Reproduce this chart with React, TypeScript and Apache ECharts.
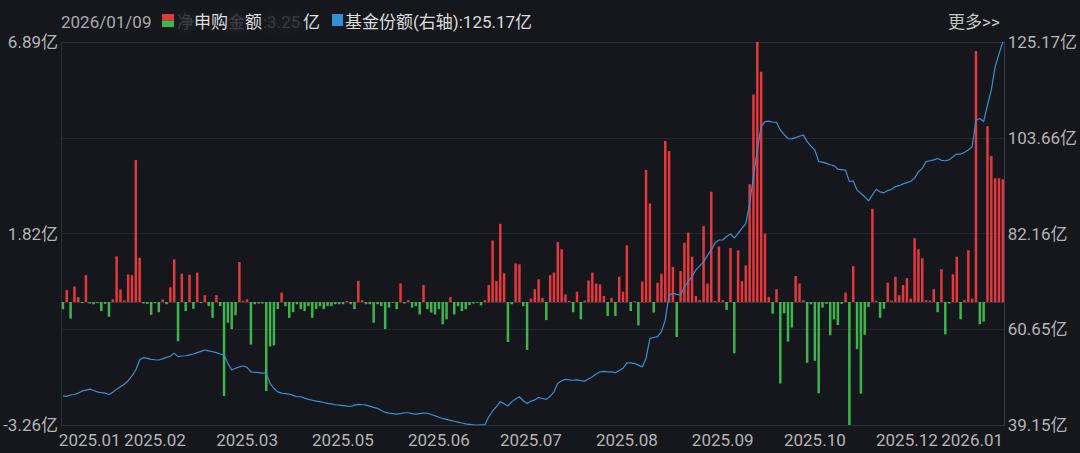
import React, { useEffect, useRef } from "react";
import * as echarts from "echarts";

// Net subscription amount per trading day (亿), 2025-01 .. 2026-01-09
const netValues: number[] = [
  -0.19, 0.32, -0.44, 0.41, 0.13, -0.03, 0.71, -0.04, -0.06, -0.03,
  -0.24, -0.05, -0.39, 0.07, 1.21, 0.33, 0.04, 0.73, 0.71, 3.76,
  1.17, -0.04, -0.05, -0.34, -0.03, -0.27, 0.07, -0.06, 0.39, 1.13,
  -1.04, 0.75, -0.24, 0.72, -0.18, 0.78, -0.03, 0.18, -0.11, -0.42,
  0.18, -0.11, -2.49, -0.55, -0.72, -0.35, 1.06, 0.03, 0.07, -1.13,
  -0.06, -0.04, -0.04, -2.36, -1.18, -1.15, -0.19, 0.25, -0.11, -0.42,
  -0.27, -0.06, -0.19, -0.24, -0.11, -0.42, -0.19, -0.11, -0.19, -0.11,
  -0.11, -0.06, -0.06, -0.06, 0.03, -0.06, -0.19, 0.56, 0.05, -0.06,
  -0.06, -0.55, -0.06, -0.11, -0.72, -0.15, -0.02, -0.19, 0.49, -0.04,
  0.05, -0.15, -0.11, -0.33, 0.45, -0.19, -0.28, -0.33, -0.19, -0.59,
  -0.46, 0.13, -0.33, -0.11, -0.24, -0.19, -0.08, -0.04, -0.02, -0.09,
  0.05, 0.45, 1.63, 0.56, 2.07, 0.76, -1.06, -0.06, 1.02, 1.0,
  -0.11, -1.27, 0.09, 0.34, 0.6, 0.11, -0.48, 0.71, 0.78, 1.59,
  1.4, 0.2, 0.03, -0.27, 0.27, -0.46, 0.04, 0.57, 0.78, 0.49,
  0.47, 0.16, -0.37, 0.11, -0.37, 0.67, 0.27, 1.5, -0.24, 0.02,
  -0.62, 0.54, 3.5, 2.61, -0.28, 0.51, 0.75, 4.27, 4.0, 0.93,
  -0.93, 0.82, 1.57, 1.84, 1.2, 0.16, 0.05, 2.01, 0.49, 2.92,
  0.03, 1.47, 0.05, -0.21, 1.43, -1.36, 1.37, 0.55, 0.97, 3.12,
  5.5, 6.89, 6.1, 1.81, 0.13, -0.31, 0.34, -2.16, -0.3, -1.05,
  -0.68, 0.69, 0.49, 0.05, -1.61, -0.06, -1.56, -2.42, -0.15, -0.05,
  -0.88, -0.46, -0.61, -0.05, 0.25, -3.26, 0.95, -1.25, -2.43, -0.87,
  -0.13, 2.47, 0.03, -0.42, -0.18, 0.51, 0.04, 0.67, 0.18, 0.45,
  0.63, 0.09, 1.69, 1.4, 1.16, 0.05, 0.04, 0.34, -0.27, 0.87,
  -0.86, -0.04, 0.73, 1.2, -0.46, 0.05, 1.37, 0.09, 6.65, -0.59,
  -0.52, 4.66, 3.87, 3.28, 3.28, 3.25,
];

// Fund shares (亿), right axis
const shareValues: number[] = [
  45.7, 45.6, 45.9, 46.0, 46.3, 46.8, 47.0, 47.2, 46.9, 46.6,
  46.4, 46.3, 46.0, 46.5, 47.2, 47.75, 48.3, 49.1, 50.2, 51.5,
  53.75, 54.3, 54.1, 53.9, 53.8, 53.75, 54.0, 54.35, 54.6, 55.3,
  54.5, 54.65, 54.7, 54.9, 55.1, 55.4, 55.7, 56.0, 55.8, 55.6,
  55.4, 55.1, 54.9, 53.0, 51.5, 51.9, 52.2, 52.4, 52.1, 51.1,
  51.0, 50.9, 50.8, 50.8, 48.5, 47.4, 46.6, 46.3, 46.2, 46.1,
  45.8, 45.5, 45.5, 45.2, 44.9, 44.7, 44.5, 44.4, 44.2, 44.0,
  43.9, 43.7, 43.6, 43.5, 43.4, 43.3, 43.6, 43.8, 43.7, 43.6,
  43.4, 43.1, 42.9, 42.4, 42.0, 41.8, 41.7, 41.6, 41.7, 41.9,
  41.9, 41.7, 41.6, 41.7, 41.8, 41.8, 41.5, 41.2, 40.9, 40.6,
  40.4, 40.2, 40.0, 39.8, 39.6, 39.4, 39.3, 39.2, 39.15, 39.2,
  39.2, 41.0, 42.3, 43.3, 44.4, 43.9, 43.4, 44.4, 45.0, 45.5,
  44.6, 44.0, 44.5, 44.8, 45.3, 45.1, 44.9, 45.6, 46.6, 48.5,
  49.1, 49.4, 49.3, 49.2, 49.3, 49.1, 49.0, 49.5, 50.0, 50.6,
  51.1, 51.2, 51.1, 51.1, 50.9, 51.4, 51.9, 53.1, 53.1, 53.0,
  52.6, 52.2, 54.1, 58.6, 58.8, 59.0, 60.1, 62.7, 68.35, 68.7,
  68.5, 68.35, 70.2, 71.4, 72.5, 74.0, 74.9, 75.8, 77.2, 78.5,
  80.0, 80.7, 80.7, 81.5, 82.05, 81.1, 82.2, 83.3, 84.4, 88.9,
  94.9, 100.9, 106.15, 107.3, 107.4, 107.2, 107.1, 105.4, 104.4, 103.5,
  103.4, 103.7, 104.0, 104.3, 102.8, 101.8, 100.9, 98.3, 98.2, 97.9,
  97.6, 97.4, 96.6, 96.5, 96.4, 93.8, 94.0, 91.9, 91.2, 90.4,
  89.5, 90.8, 92.1, 91.5, 91.3, 91.8, 92.1, 92.7, 92.9, 93.3,
  93.6, 93.9, 94.6, 96.0, 96.8, 98.3, 98.5, 98.7, 99.0, 98.6,
  98.5, 98.7, 99.4, 100.0, 100.0, 100.4, 100.9, 101.65, 107.6, 108.0,
  107.3, 111.0, 114.4, 119.6, 122.5, 125.17,
];

// x-axis tick labels and the bar index they sit under
const xTickIndex: number[] = [7, 24, 48, 73, 98, 122, 147, 172, 196, 220, 237];
const xTickLabels: string[] = [
  "2025.01", "2025.02", "2025.03", "2025.05", "2025.06", "2025.07",
  "2025.08", "2025.09", "2025.10", "2025.12", "2026.01",
];

const leftMin = -3.26;
const leftMax = 6.89;
const leftTickLabels: string[] = ["-3.26亿", "", "1.82亿", "", "6.89亿"];
const rightMin = 39.15;
const rightMax = 125.17;
const rightTickLabels: string[] = ["39.15亿", "60.65亿", "82.16亿", "103.66亿", "125.17亿"];

const categories: string[] = netValues.map((_, i) => String(i));

const RED = "#e4393c";
const GREEN = "#3cb54b";
const BLUE = "#3a8fd6";
const BG = "#15171c";
const FONT = 'Roboto, "Noto Sans CJK SC", sans-serif';

export default function App() {
  const ref = useRef<HTMLDivElement>(null);

  useEffect(() => {
    document.body.style.margin = "0";
    const chart = echarts.init(ref.current!, undefined, { renderer: "svg" });
    const leftInt = (leftMax - leftMin) / 4;
    const rightInt = (rightMax - rightMin) / 4;
    const tickMap: Record<number, string> = {};
    xTickIndex.forEach((ix, k) => (tickMap[ix] = xTickLabels[k]));

    const blurred = (text: string, x: number) => ({
      type: "text",
      left: x,
      top: 13,
      silent: true,
      style: {
        text,
        fill: "rgba(220,220,220,0.16)",
        font: `17px ${FONT}`,
        textShadowColor: "rgba(230,230,230,0.8)",
        textShadowBlur: 9,
      },
    });
    const clear = (text: string, x: number, color = "#dcdcdc") => ({
      type: "text",
      left: x,
      top: 13,
      style: { text, fill: color, font: `17px ${FONT}` },
    });

    chart.setOption({
      animation: false,
      backgroundColor: BG,
      textStyle: { fontFamily: FONT },
      grid: { left: 61, right: 75, top: 42, bottom: 28, containLabel: false },
      xAxis: {
        type: "category",
        data: categories,
        boundaryGap: true,
        axisLine: { show: true, lineStyle: { color: "#33363e", width: 1 } },
        axisTick: { show: false },
        splitLine: { show: false },
        axisLabel: {
          interval: (i: number) => tickMap[i] !== undefined,
          formatter: (_v: string, i: number) => tickMap[i] ?? "",
          hideOverlap: false,
          showMinLabel: true,
          showMaxLabel: true,
          color: "#b4b4b4",
          fontSize: 17,
          fontFamily: FONT,
          margin: 6,
        },
      },
      yAxis: [
        {
          type: "value",
          position: "left",
          min: leftMin,
          max: leftMax,
          interval: leftInt,
          axisLine: { show: true, lineStyle: { color: "#2e3138" } },
          axisTick: { show: false },
          splitLine: {
            show: true,
            lineStyle: { color: ["#2a2d34", "#22252b", "#22252b", "#22252b", "#383b43"], width: 1 },
          },
          axisLabel: {
            color: "#b4b4b4",
            fontSize: 17,
            fontFamily: FONT,
            margin: 3,
            formatter: (v: number) => leftTickLabels[Math.round((v - leftMin) / leftInt)] ?? "",
          },
        },
        {
          type: "value",
          position: "right",
          min: rightMin,
          max: rightMax,
          interval: rightInt,
          axisLine: { show: true, lineStyle: { color: "#3a3d45" } },
          axisTick: { show: false },
          splitLine: { show: false },
          axisLabel: {
            color: "#b4b4b4",
            fontSize: 17,
            fontFamily: FONT,
            margin: 3,
            formatter: (v: number) => rightTickLabels[Math.round((v - rightMin) / rightInt)] ?? "",
          },
        },
      ],
      series: [
        {
          type: "bar",
          yAxisIndex: 0,
          barWidth: 2.5,
          data: netValues.map((v) => ({ value: v, itemStyle: { color: v >= 0 ? RED : GREEN } })),
        },
        {
          type: "line",
          yAxisIndex: 1,
          data: shareValues,
          symbol: "none",
          lineStyle: { color: BLUE, width: 1.2 },
          z: 3,
        },
      ],
      graphic: [
        clear("2026/01/09", 61, "#a9a9a9"),
        { type: "rect", left: 162, top: 14, shape: { width: 12, height: 6.5 }, style: { fill: RED } },
        { type: "rect", left: 162, top: 20.5, shape: { width: 12, height: 6.5 }, style: { fill: GREEN } },
        blurred("净", 177),
        clear("申购", 194),
        blurred("金", 228),
        clear("额", 245),
        blurred(":3.25", 263),
        clear("亿", 303),
        { type: "rect", left: 332, top: 14, shape: { width: 11, height: 12 }, style: { fill: "#2f8fd8" } },
        clear("基金份额(右轴):125.17亿", 345),
        clear("更多>>", 948, "#c4c4c4"),
      ],
    });
    return () => chart.dispose();
  }, []);

  return (
    <div
      ref={ref}
      style={{ position: "fixed", left: 0, top: 0, width: 1080, height: 453, background: BG }}
    />
  );
}
